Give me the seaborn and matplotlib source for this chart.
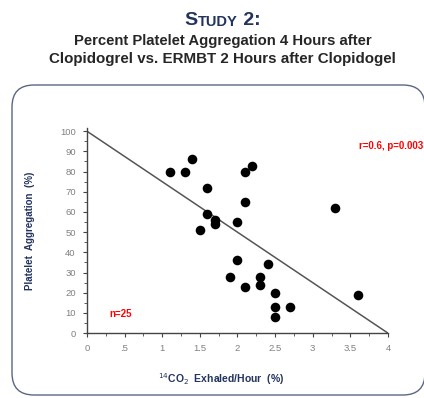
import matplotlib
matplotlib.use("Agg")
import matplotlib.pyplot as plt
from matplotlib.patches import FancyBboxPatch
from matplotlib.ticker import MultipleLocator
import seaborn as sns
import pandas as pd

# ERMBT (14CO2 exhaled/hour, %) vs platelet aggregation (%)
co2 = [1.1, 1.3, 1.4, 1.6, 2.1, 2.2, 2.1, 1.6, 1.7, 1.7, 2.0, 1.5,
       2.0, 1.9, 2.1, 2.3, 2.3, 2.4, 2.5, 2.5, 2.5, 2.7, 3.6, 3.3]
aggregation = [80, 80, 86, 72, 80, 83, 65, 59, 56, 54, 55, 51,
               36, 28, 23, 28, 24, 34, 20, 13, 8, 13, 19, 62]
fit_x = [0, 4]
fit_y = [100, 0]

navy = "#22335e"

sns.set_style("ticks")
plt.rcParams["font.family"] = ["Liberation Sans", "DejaVu Sans"]

fig = plt.figure(figsize=(4.24, 3.98), dpi=100)
ax = fig.add_axes([0.205, 0.163, 0.71, 0.515])

df = pd.DataFrame({"co2": co2, "agg": aggregation})
sns.scatterplot(data=df, x="co2", y="agg", color="black", s=48,
                edgecolor="black", linewidth=0, ax=ax, clip_on=False, zorder=3)
sns.lineplot(x=fit_x, y=fit_y, color="#555555", lw=1.1, ax=ax)

ax.set_xlim(0, 4)
ax.set_ylim(0, 101.5)
ax.xaxis.set_major_locator(MultipleLocator(0.5))
ax.xaxis.set_minor_locator(MultipleLocator(0.25))
ax.yaxis.set_major_locator(MultipleLocator(10))
ax.yaxis.set_minor_locator(MultipleLocator(5))
ax.set_xticks([0, 0.5, 1, 1.5, 2, 2.5, 3, 3.5, 4])
ax.set_xticklabels(["0", ".5", "1", "1.5", "2", "2.5", "3", "3.5", "4"])
ax.tick_params(axis="both", which="major", labelsize=6.8, labelcolor="#808080",
               length=3, width=0.8, color="#444444", pad=5)
ax.tick_params(axis="both", which="minor", length=2, width=0.6, color="#444444")
sns.despine(ax=ax)
for s in ("left", "bottom"):
    ax.spines[s].set_color("#444444")
    ax.spines[s].set_linewidth(1.0)

ax.set_xlabel("$^{14}$CO$_2$  Exhaled/Hour  (%)", fontsize=7.5, fontweight="bold",
              color=navy)
ax.xaxis.set_label_coords(0.445, -0.185)
ax.set_ylabel("Platelet  Aggregation  (%)", fontsize=7, fontweight="bold",
              color=navy, labelpad=18)

ax.text(0.075, 0.08, "n=25", transform=ax.transAxes, color="red",
        fontsize=7, fontweight="bold")
fig.text(0.999, 0.633, "r=0.6, p=0.003", color="red", fontsize=7,
         fontweight="bold", ha="right", va="center")

# rounded frame around the chart
frame = FancyBboxPatch((12, 3), 413, 310, boxstyle="round,pad=0,rounding_size=22",
                       transform=None, facecolor="none", edgecolor="#5b6782",
                       linewidth=1.0)
fig.patches.append(frame)

# small-caps style title
t1 = fig.text(184 / 424, 1 - 25 / 398, "S", fontsize=14, fontweight="bold",
              color=navy, va="baseline")
t2 = ax.annotate("TUDY", xy=(1, 0), xycoords=t1, xytext=(0.5, 0),
                 textcoords="offset points", fontsize=10.5, fontweight="bold",
                 color=navy, va="bottom", annotation_clip=False)
ax.annotate(" 2:", xy=(1, 0), xycoords=t2, fontsize=14, fontweight="bold",
            color=navy, va="bottom", annotation_clip=False)

fig.text(0.525, 1 - 41 / 398, "Percent Platelet Aggregation 4 Hours after",
         fontsize=10.7, fontweight="bold", ha="center", va="center")
fig.text(0.525, 1 - 59 / 398, "Clopidogrel vs. ERMBT 2 Hours after Clopidogel",
         fontsize=10.9, fontweight="bold", ha="center", va="center")

fig.savefig("out.png", dpi=100)
